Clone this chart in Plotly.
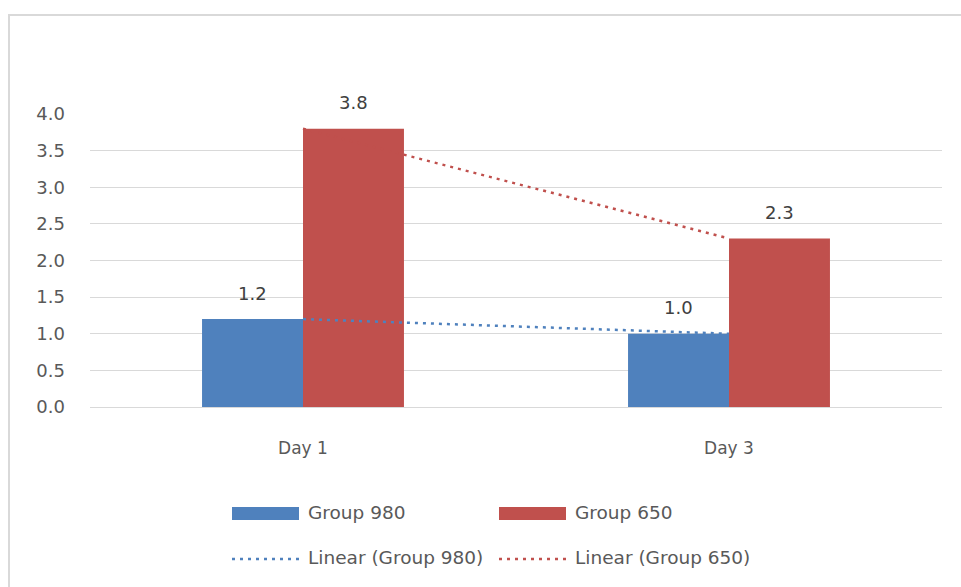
import numpy as np
import plotly.graph_objects as go

# Data
days = ["Day 1", "Day 3"]
group_980 = [1.2, 1.0]
group_650 = [3.8, 2.3]
series_names = ["Group 980", "Group 650"]
y_ticks = [0.0, 0.5, 1.0, 1.5, 2.0, 2.5, 3.0, 3.5, 4.0]

BLUE = "#4F81BD"
RED = "#C0504D"
TEXT = "#595959"
LABEL = "#404040"
GRID = "#D9D9D9"
FONT = "DejaVu Sans"
DOTS = "3px,5px"

W, H = 961, 587
ML, MR, MT, MB = 90, 19, 114, 180
PW, PH = W - ML - MR, H - MT - MB


def px_x(px):
    return (px - ML) / PW


def px_y(py):
    return (H - MB - py) / PH


fig = go.Figure()

for name, vals, col in [(series_names[0], group_980, BLUE), (series_names[1], group_650, RED)]:
    fig.add_trace(go.Bar(x=days, y=vals, name=name, marker=dict(color=col, line=dict(width=0)),
                         showlegend=False))

# Linear trendlines fitted over category index
xi = np.arange(1, len(days) + 1)
for name, vals, col in [(series_names[0], group_980, BLUE), (series_names[1], group_650, RED)]:
    k, b = np.polyfit(xi, vals, 1)
    fig.add_trace(go.Scatter(x=days, y=k * xi + b, mode="lines", name=f"Linear ({name})",
                             line=dict(color=col, width=2.5, dash=DOTS), showlegend=False,
                             hoverinfo="skip"))

# Value labels above bars
for vals, shift in [(group_980, -50.5), (group_650, 50.5)]:
    for d, v in zip(days, vals):
        fig.add_annotation(x=d, y=v, text=f"{v:.1f}", showarrow=False, xshift=shift, yshift=26,
                           font=dict(family=FONT, size=18, color=LABEL))

# Outer chart frame
fig.add_shape(type="rect", xref="paper", yref="paper", x0=px_x(9), x1=px_x(990),
              y0=px_y(620), y1=px_y(15), line=dict(color="#D9D9D9", width=2), layer="below")

# Legend drawn with shapes and labels: (label, colour, kind, x, symbol y, text y)
legend_items = [
    ("Group 980", BLUE, "rect", 232, 513.5, 512),
    ("Group 650", RED, "rect", 499, 513.5, 512),
    ("Linear (Group 980)", BLUE, "line", 232, 559, 557.5),
    ("Linear (Group 650)", RED, "line", 499, 559, 557.5),
]
for label, col, kind, lx, ly, ty in legend_items:
    if kind == "rect":
        fig.add_shape(type="rect", xref="paper", yref="paper", x0=px_x(lx), x1=px_x(lx + 67),
                      y0=px_y(ly + 6.5), y1=px_y(ly - 6.5), fillcolor=col, line=dict(width=0))
    else:
        fig.add_shape(type="line", xref="paper", yref="paper", x0=px_x(lx), x1=px_x(lx + 67),
                      y0=px_y(ly), y1=px_y(ly), line=dict(color=col, width=2.5, dash=DOTS))
    fig.add_annotation(xref="paper", yref="paper", x=px_x(lx + 74), y=px_y(ty), text=label,
                       showarrow=False, xanchor="left", yanchor="middle",
                       font=dict(family=FONT, size=18.5, color=TEXT))

fig.update_layout(
    width=W, height=H,
    margin=dict(l=ML, r=MR, t=MT, b=MB),
    paper_bgcolor="white", plot_bgcolor="white",
    barmode="group", bargap=0.526, bargroupgap=0,
    font=dict(family=FONT, size=18, color=TEXT),
    showlegend=False,
)
fig.update_yaxes(range=[0, 4.0], tickvals=y_ticks, tickformat=".1f", showgrid=True,
                 gridcolor=GRID, gridwidth=1, zeroline=True, zerolinecolor=GRID, zerolinewidth=1,
                 showline=False, ticks="", ticklabelstandoff=24,
                 tickfont=dict(family=FONT, size=18, color=TEXT))
fig.update_xaxes(showgrid=False, showline=False, ticks="", ticklabelstandoff=29,
                 tickfont=dict(family=FONT, size=17, color=TEXT))

fig.write_html("out.html")
